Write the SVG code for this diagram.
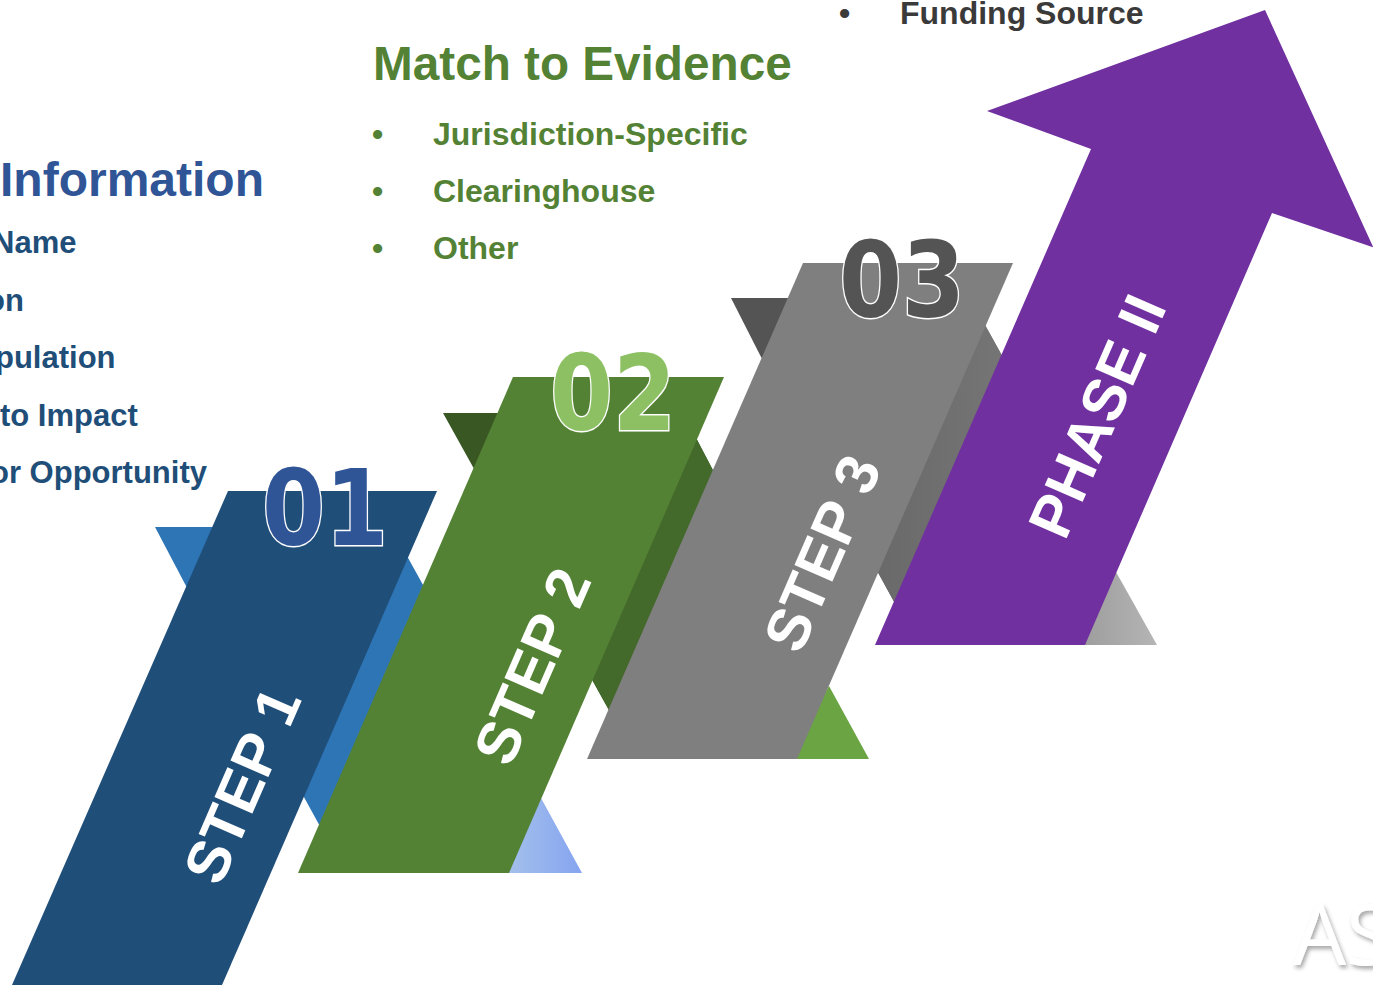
<svg xmlns="http://www.w3.org/2000/svg" width="1373" height="985" viewBox="0 0 1373 985">
<defs>
<style>
.t{font-family:"Liberation Sans",Arial,sans-serif;font-weight:bold}
.blue{fill:#2F5597}
.dblue{fill:#1F4E79}
.green{fill:#548235}
.gray{fill:#3A3A3A}
.num{font-family:"DejaVu Sans",sans-serif;font-weight:bold;font-size:106px;stroke:#fff;stroke-width:3;paint-order:stroke;text-anchor:middle}
.lbl{font-family:"Liberation Sans",Arial,sans-serif;font-weight:bold;font-size:60px;fill:#fff;text-anchor:middle}
</style>
<linearGradient id="lb" x1="0" y1="0" x2="1" y2="0"><stop offset="0" stop-color="#A6C3EA"/><stop offset="1" stop-color="#86A4F0"/></linearGradient>
<linearGradient id="gb" x1="0" y1="0" x2="1" y2="0"><stop offset="0" stop-color="#666666"/><stop offset="1" stop-color="#7A7A7A"/></linearGradient>
<linearGradient id="lg" x1="0" y1="0" x2="1" y2="0"><stop offset="0" stop-color="#999999"/><stop offset="1" stop-color="#B5B5B5"/></linearGradient>
<filter id="sh" x="-20%" y="-20%" width="140%" height="140%"><feDropShadow dx="2" dy="3" stdDeviation="2" flood-color="#000" flood-opacity="0.35"/></filter>
</defs>
<rect width="1373" height="985" fill="#fff"/>

<g id="text-information">
<text class="t blue" x="0" y="196" font-size="48">Information</text>
<text class="t dblue" x="-8" y="253" font-size="31">Name</text>
<text class="t dblue" x="-14" y="311" font-size="31">on</text>
<text class="t dblue" x="-5" y="368" font-size="31">pulation</text>
<text class="t dblue" x="0" y="426" font-size="31">to Impact</text>
<text class="t dblue" x="-10" y="483" font-size="31">or Opportunity</text>
</g>

<g id="text-evidence">
<text class="t green" x="373" y="80" font-size="47.7">Match to Evidence</text>
<text class="t green" x="372" y="145" font-size="32">•</text>
<text class="t green" x="433" y="145" font-size="32">Jurisdiction-Specific</text>
<text class="t green" x="372" y="202" font-size="32">•</text>
<text class="t green" x="433" y="202" font-size="32">Clearinghouse</text>
<text class="t green" x="372" y="259" font-size="32">•</text>
<text class="t green" x="433" y="259" font-size="32">Other</text>
</g>

<g id="text-funding">
<text class="t gray" x="839" y="24" font-size="32">•</text>
<text class="t gray" x="900" y="24" font-size="32">Funding Source</text>
</g>

<g id="step1-back">
<polygon points="155,527 391,527 470,670 333,850 260,717 185,584" fill="#2E75B6"/>
</g>
<g id="step2-back">
<polygon points="443,413 683,413 760,560 620,730 570,640 473,467" fill="#385723"/>
<polygon points="683,413 760,560 620,730 570,640 600,560" fill="#43692B"/>
<polygon points="541,798 582,873 500,873" fill="url(#lb)"/>
</g>
<g id="step3-back">
<polygon points="731,298 970,298 1060,460 915,640 840,503 760,355" fill="#545454"/>
<polygon points="970,298 1060,460 915,640 840,503 880,420" fill="url(#gb)"/>
<polygon points="829,686 869,759 790,759" fill="#6AA443"/>
</g>
<g id="phase-back">
<polygon points="1116,572 1157,645 1070,645" fill="url(#lg)"/>
</g>

<g id="step1">
<polygon points="228,491 437,491 222,985 12,985" fill="#1F4E79"/>
<text class="num" x="325" y="545" fill="#2F5597" textLength="126" lengthAdjust="spacingAndGlyphs">01</text>
<text class="lbl" transform="translate(242,785) rotate(-66.5)" dy="21">STEP 1</text>
</g>
<g id="step2">
<polygon points="513,377 724,377 509,873 298,873" fill="#548235"/>
<text class="num" x="613" y="430" fill="#8CC063" textLength="126" lengthAdjust="spacingAndGlyphs">02</text>
<text class="lbl" transform="translate(532,666) rotate(-66.5)" dy="21">STEP 2</text>
</g>
<g id="step3">
<polygon points="803,263 1013,263 797,759 587,759" fill="#7F7F7F"/>
<text class="num" x="902" y="317" fill="#545454" textLength="126" lengthAdjust="spacingAndGlyphs">03</text>
<text class="lbl" transform="translate(822,553) rotate(-66.5)" dy="21">STEP 3</text>
</g>
<g id="phase2">
<polygon points="1265,10 1390,284 1390,253 1272,213 1085,645 875,645 1091,149 987,111" fill="#7030A0"/>
<text class="lbl" transform="translate(1097,416) rotate(-66.5)" dy="21">PHASE II</text>
</g>

<g id="connectors"></g>

<g id="logo">
<text x="1293" y="965" font-family="'Open Sans','Liberation Sans',sans-serif" font-size="84" fill="#fff" filter="url(#sh)">AS</text>
</g>
</svg>
